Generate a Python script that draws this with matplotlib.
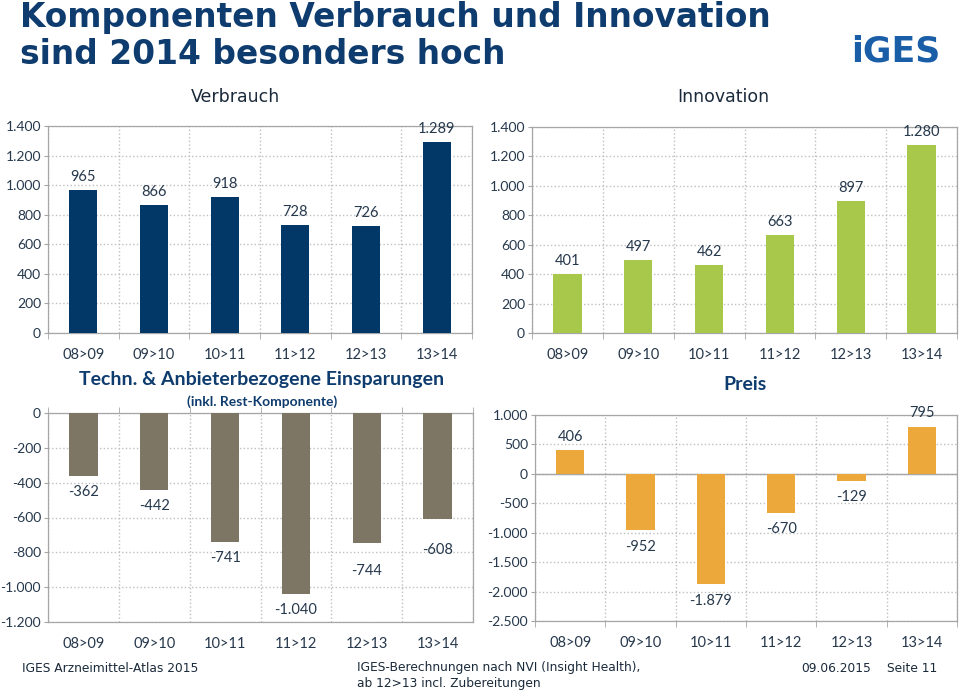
import matplotlib
matplotlib.use("Agg")
import matplotlib.pyplot as plt
from matplotlib.ticker import FuncFormatter, FixedLocator
import numpy as np

# data
periods = ["08>09", "09>10", "10>11", "11>12", "12>13", "13>14"]
verbrauch = [965, 866, 918, 728, 726, 1289]
innovation = [401, 497, 462, 663, 897, 1280]
einsparungen = [-362, -442, -741, -1040, -744, -608]
preis = [406, -952, -1879, -670, -129, 795]

W, H = 960, 691
fig = plt.figure(figsize=(W / 100, H / 100), dpi=100)

navy = "#0f3c6e"
tick_col = "#26384c"
grid_col = "#bfbfbf"
spine_col = "#a6a6a6"
lab_font = "Lato"


def de_fmt(v, pos=None):
    s = f"{abs(int(round(v))):,}".replace(",", ".")
    return ("-" if v < 0 else "") + s


def px_axes(x0, y0, x1, y1):
    return fig.add_axes([x0 / W, 1 - y1 / H, (x1 - x0) / W, (y1 - y0) / H])


def bar_panel(ax, values, color, ylim, step, label_off):
    x = np.arange(len(periods))
    ax.bar(x, values, width=0.4, color=color, zorder=3)
    ax.set_xlim(-0.5, len(periods) - 0.5)
    ax.set_ylim(*ylim)
    ax.set_yticks(np.arange(ylim[0], ylim[1] + 1, step))
    ax.yaxis.set_major_formatter(FuncFormatter(de_fmt))
    ax.set_xticks(x)
    ax.set_xticklabels(periods)
    ax.xaxis.set_minor_locator(FixedLocator(np.arange(-0.5, len(periods), 1)))
    ax.tick_params(axis="x", which="major", length=0, pad=11,
                   labelsize=10.5, labelcolor=tick_col)
    ax.tick_params(axis="x", which="minor", length=4, color=spine_col)
    ax.tick_params(axis="y", length=3, color=spine_col, pad=2,
                   labelsize=10, labelcolor=tick_col)
    for lab in ax.get_xticklabels() + ax.get_yticklabels():
        lab.set_fontfamily(lab_font)
    ax.grid(axis="y", which="major", color=grid_col, linestyle=":", linewidth=1, zorder=0)
    ax.grid(axis="x", which="minor", color=grid_col, linestyle=":", linewidth=1, zorder=0)
    for sp in ax.spines.values():
        sp.set_color(spine_col)
        sp.set_linewidth(0.9)
    for xi, v, off in zip(x, values, label_off):
        d = off if v >= 0 else -off
        ax.annotate(de_fmt(v), (xi, v), xytext=(0, d * 0.72), textcoords="offset points",
                    ha="center", va="center", fontsize=10.5, color=tick_col,
                    family=lab_font, zorder=4)


ax1 = px_axes(48, 126, 472, 333)
bar_panel(ax1, verbrauch, "#023868", (0, 1400), 200, [13] * 6)

ax2 = px_axes(532, 127, 957, 333)
bar_panel(ax2, innovation, "#a7c84b", (0, 1400), 200, [13] * 6)

ax3 = px_axes(48, 413, 473, 622)
bar_panel(ax3, einsparungen, "#7e7665", (-1200, 0), 200, [16, 16, 16, 16, 28, 31])
ax3.tick_params(axis="x", which="minor", top=True, bottom=False)

ax4 = px_axes(535, 415, 957, 621)
bar_panel(ax4, preis, "#eca83b", (-2500, 1000), 500, [13, 17, 16.5, 16, 16, 14])
ax4.axhline(0, color=spine_col, linewidth=1, zorder=2)

# titles
fig.text(20 / W, 1 - 17 / H, "Komponenten Verbrauch und Innovation", fontsize=23.7,
         fontweight="bold", color=navy, va="center", family="DejaVu Sans")
fig.text(20 / W, 1 - 54 / H, "sind 2014 besonders hoch", fontsize=23.7,
         fontweight="bold", color=navy, va="center", family="DejaVu Sans")
fig.text(896 / W, 1 - 52 / H, "iGES", fontsize=25, fontweight="heavy",
         color="#1b5ea8", ha="center", va="center", family="DejaVu Sans")

fig.text(235 / W, 1 - 97 / H, "Verbrauch", fontsize=12.5, color="#1a2a3a",
         ha="center", va="center", family="DejaVu Sans")
fig.text(723 / W, 1 - 97 / H, "Innovation", fontsize=12.5, color="#1a2a3a",
         ha="center", va="center", family="DejaVu Sans")

fig.text(262 / W, 1 - 380 / H, "Techn. & Anbieterbezogene Einsparungen", fontsize=14,
         fontweight="bold", color=navy, ha="center", va="center", family=lab_font)
fig.text(262 / W, 1 - 402 / H, "(inkl. Rest-Komponente)", fontsize=10,
         fontweight="bold", color=navy, ha="center", va="center", family=lab_font)
fig.text(745 / W, 1 - 384 / H, "Preis", fontsize=14,
         fontweight="bold", color=navy, ha="center", va="center", family=lab_font)

# footer
foot = dict(fontsize=8.8, color="#1a2a3a", va="center", family="DejaVu Sans")
fig.text(22 / W, 1 - 668 / H, "IGES Arzneimittel-Atlas 2015", **foot)
fig.text(357 / W, 1 - 668 / H, "IGES-Berechnungen nach NVI (Insight Health),", **foot)
fig.text(357 / W, 1 - 684 / H, "ab 12>13 incl. Zubereitungen", **foot)
fig.text(871 / W, 1 - 668 / H, "09.06.2015", ha="right", **foot)
fig.text(937 / W, 1 - 668 / H, "Seite 11", ha="right", **foot)

fig.savefig("out.png", dpi=100)
